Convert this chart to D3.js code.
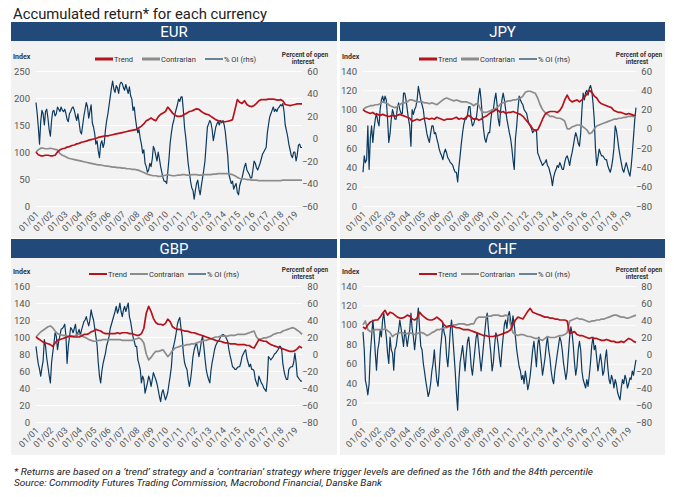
<!DOCTYPE html>
<html><head><meta charset="utf-8">
<script src="https://cdn.jsdelivr.net/npm/d3@7"></script>
<style>body{margin:0;background:#fff;} svg{display:block;font-family:Roboto,"Noto Sans",sans-serif;}</style>
</head><body><svg id="c" width="674" height="497"></svg>
<script>
// ---------- DATA ----------
// Trend & Contrarian: bi-monthly from Jan 2001 ; % OI: monthly from Jan 2001
const tickYears = [2001,2002,2003,2004,2005,2006,2007,2008,2009,2010,2011,2012,2013,2014,2015,2016,2017,2018,2019];

const eurLeftTicks = [0,50,100,150,200,250];
const eurRightTicks = [-60,-40,-20,0,20,40,60];
const jpyLeftTicks = [0,20,40,60,80,100,120,140];
const jpyRightTicks = [-80,-60,-40,-20,0,20,40,60];
const gbpLeftTicks = [0,20,40,60,80,100,120,140,160];
const gbpRightTicks = [-80,-60,-40,-20,0,20,40,60,80];
const chfLeftTicks = [0,20,40,60,80,100,120,140];
const chfRightTicks = [-80,-60,-40,-20,0,20,40,60,80];

const eurTrend = [
100,95,93,93,94,94, 93,93,94,100,104,106, 107,109,110,112,113,115, 116,118,119,120,122,123,
124,125,127,128,129,130, 130,131,132,133,134,135, 136,137,138,139,140,141, 142,145,148,152,158,160,
163,160,158,165,170,172, 175,183,178,172,168,166, 166,167,170,172,175,176, 178,180,179,175,172,170,
169,166,163,160,158,157, 156,156,157,158,160,178, 197,192,190,195,188,185, 184,186,190,195,197,197,
197,198,198,198,197,196, 197,195,188,187,186,187, 188,189,189,189];
const eurContrarian = [
100,104,107,107,106,106, 107,106,105,104,97,94, 92,90,88,87,86,85, 84,83,82,81,80,79,
78,77,76,76,75,74, 74,73,72,72,71,71, 70,70,69,69,68,68, 67,66,64,62,60,58,
57,56,56,55,55,56, 57,58,57,56,56,57, 57,58,58,57,57,58, 58,58,57,57,58,58,
58,58,59,59,60,60, 60,60,60,59,58,56, 53,51,50,50,49,49, 48,48,48,47,47,47,
47,47,47,47,47,47, 47,48,48,48,48,48, 48,48,48,48];
const eurOI = [
32,22,10,-5,15,25,22,12,24,26,18,8,
2,16,24,25,20,22,28,26,24,28,25,24,
26,22,17,15,22,24,27,28,25,20,16,22,
14,6,4,12,20,26,32,28,18,24,30,14,
10,4,-5,-2,-11,-17,-5,-2,-8,-4,8,16,
22,30,37,45,51,44,41,47,45,40,48,50,
49,45,43,48,44,40,46,38,35,25,28,18,
10,5,8,0,-5,-13,-10,-22,-25,-30,-28,-22,
-25,-18,-7,-10,-15,-20,-12,-18,-25,-30,-35,-38,
-38,-40,-30,-18,-4,5,12,16,22,26,30,35,
33,37,37,25,10,1,-10,-22,-30,-38,-44,-46,
-54,-46,-40,-37,-45,-50,-42,-35,-28,-20,-5,10,
13,16,14,8,-2,4,10,13,15,12,16,14,
16,12,6,-5,-15,-32,-36,-40,-38,-45,-42,-40,
-48,-50,-42,-38,-35,-30,-25,-22,-28,-30,-32,-35,
-35,-28,-20,-22,-26,-28,-25,-22,-18,-14,-12,-10,
-8,5,12,19,22,25,28,24,26,24,27,28,
30,29,31,24,12,7,2,-5,-10,-15,-17,-12,
-12,-20,-15,-6,-5,-8,-8];

const jpyTrend = [
100,98,97,96,97,95, 95,94,95,94,93,93, 94,93,94,95,94,93, 92,91,88,89,90,89,
90,91,91,90,91,90, 92,91,90,89,90,90, 90,91,92,90,91,90, 92,94,92,90,91,89,
90,92,93,95,97,98, 100,99,97,98,96,97, 97,98,97,96,95,93, 90,87,84,80,78,79,
84,90,95,97,98,98, 98,97,99,103,110,115, 110,108,109,110,108,110, 113,116,120,118,114,112,
108,106,105,104,103,102, 99,98,97,97,96,95, 96,95,94,94];
const jpyContrarian = [
100,102,103,104,104,105, 105,106,108,107,106,104, 103,102,103,105,107,107, 108,110,110,109,108,108,
108,107,107,106,107,106, 105,107,109,111,112,111, 110,109,110,109,108,108, 108,107,106,104,106,105,
99,97,97,98,99,100, 101,103,106,107,108,109, 109,110,110,111,112,114, 118,119,119,118,117,112,
105,100,97,95,93,93, 92,91,91,90,88,80, 80,82,83,84,84,83, 81,79,75,76,80,83,
84,85,86,87,88,89, 90,90,91,91,92,92, 93,93,93,93];
const jpyOI = [
-45,-28,-35,-32,3,-42,-10,3,-14,0,10,16,
8,3,20,30,34,28,34,30,10,-14,-5,10,
20,15,10,10,22,27,20,16,16,37,37,30,
20,10,3,-18,20,15,20,23,30,44,37,30,
25,20,10,3,-5,-10,-14,-5,3,3,-5,-4,
-10,-15,-21,-25,-28,-32,-25,-21,-25,-30,-32,-35,
-36,-38,-42,-45,-45,-55,-40,-28,-15,-4,5,10,
10,15,23,23,10,3,5,10,10,20,35,42,
30,13,0,-10,-14,-8,-4,-4,10,20,20,30,
37,25,10,3,20,30,37,30,20,10,3,-4,
-10,-20,-32,-42,-10,3,20,34,30,27,25,20,
18,16,10,5,3,0,-4,-2,-1,-1,-25,-28,
-32,-35,-38,-36,-35,-32,-38,-40,-45,-50,-59,-50,
-45,-42,-38,-40,-35,-38,-42,-42,-35,-30,-28,-32,
-38,-30,-25,-18,-10,-4,-8,-15,-18,-5,20,37,
30,38,40,35,42,45,40,27,10,-20,-38,-30,
-21,-25,-28,-28,-30,-32,-32,-38,-42,-45,-40,-32,
-20,3,-1,-10,-20,-28,-35,-42,-45,-40,-35,-40,
-45,-49,-40,-25,-8,10,22];

const gbpTrend = [
100,98,96,94,93,92, 91,89,93,96,97,98, 99,100,101,101,100,100, 100,101,103,103,104,106,
107,109,108,107,105,104, 104,104,104,104,105,104, 105,105,105,104,104,103, 102,102,104,110,128,136,
130,122,117,115,115,114, 116,121,118,112,110,109, 109,108,107,107,106,105, 105,104,103,102,101,100,
99,98,97,96,95,95, 94,93,93,92,92,92, 91,91,91,91,90,90, 88,87,92,97,96,95,
95,93,91,90,89,88, 87,86,85,84,83,83, 84,86,89,87];
const gbpContrarian = [
100,103,106,108,110,112, 113,111,107,104,103,102, 102,101,100,100,101,103, 103,102,100,99,97,96,
95,95,96,96,97,97, 97,97,97,97,97,97, 96,96,96,96,96,97, 98,99,97,93,80,73,
76,80,83,83,84,85, 81,77,80,84,87,88, 89,90,90,91,91,92, 92,93,94,95,96,96,
97,98,99,100,100,101, 101,101,101,102,102,102, 103,103,103,103,104,105, 106,107,100,97,98,99,
99,100,101,103,104,105, 105,107,108,109,110,111, 110,108,106,103];
const gbpOI = [
9,-3,-12,-18,-26,-16,-8,17,9,-5,-15,-25,
-34,-10,1,12,25,21,5,15,22,29,30,32,
35,21,-11,9,20,31,29,25,30,35,21,25,
29,22,28,33,38,40,44,38,33,40,52,45,
40,30,21,10,-10,-26,-34,-20,-11,-5,1,10,
15,21,30,35,40,45,50,56,48,52,60,50,
44,52,56,50,55,60,44,38,29,20,15,9,
9,-7,-12,-18,-34,-26,-30,-46,-40,-34,-26,-30,
-38,-30,-22,-26,-30,-35,-42,-50,-56,-46,-42,-48,
-54,-50,-45,-35,-26,-15,5,10,17,25,35,40,
43,30,21,1,-10,-15,-18,-30,-38,-30,-18,-3,
5,10,13,5,-3,5,15,21,9,-5,-18,-25,
-30,-34,-20,-10,-3,5,10,13,15,17,20,22,
23,22,21,18,15,5,-2,-8,-15,-16,-18,-18,
-16,-15,-15,-10,-3,0,3,5,-5,-10,-15,-12,
-18,-18,-20,-30,-34,-38,-26,-30,-34,-36,-40,-42,
-44,-30,-3,-5,-7,-5,-3,0,1,3,5,9,
9,5,-11,-20,-26,-30,-30,-18,-16,-15,-15,-10,
1,-10,-26,-28,-30,-32,-32];

const chfTrend = [
98,96,100,103,104,105, 105,108,112,115,110,113, 112,110,108,107,107,108, 110,109,106,105,107,113,
110,108,106,105,105,106, 108,106,104,100,98,99, 99,98,97,97,96,95, 95,95,94,93,92,91,
90,89,89,88,88,88, 89,89,90,91,92,93, 95,100,105,108,107,106, 110,114,117,113,112,111,
110,109,108,108,107,107, 106,106,105,105,105,104, 91,92,93,90,89,89, 88,87,86,87,86,86,
85,84,84,85,84,83, 83,82,82,83,82,84, 86,85,83,82];
const chfContrarian = [
100,104,95,93,94,95, 95,95,95,96,94,92, 88,90,91,92,92,91, 91,92,91,90,91,92,
92,91,89,90,92,93, 95,95,96,97,97,98, 99,100,100,101,101,101, 100,100,101,101,106,108,
108,108,108,109,109,110, 110,110,109,109,110,109, 100,92,90,89,90,90, 89,88,88,87,86,86,
85,84,86,88,87,87, 87,88,89,89,90,92, 104,105,106,107,106,106, 105,104,103,104,104,105,
105,106,106,107,108,109, 110,110,109,108,108,107, 107,108,109,110];
const chfOI = [
26,5,-31,-38,-48,-35,0,20,40,24,1,-19,
5,13,28,20,40,48,32,20,1,-11,20,5,
1,-19,5,9,20,28,40,30,20,9,28,20,
9,20,28,48,30,20,5,20,40,54,30,9,
5,-11,-20,-31,-40,-50,-45,-35,-20,-11,5,-15,
-31,-38,-20,5,20,36,25,20,-3,-15,5,28,
40,20,1,-20,-45,-66,-31,-10,0,10,-5,-20,
0,15,20,5,-15,-25,-10,5,20,25,10,-5,
-20,-5,10,25,40,48,30,15,0,-20,-10,10,
25,20,10,-5,-15,5,20,35,40,30,45,50,
40,30,45,35,20,5,-5,-15,-20,-30,-25,-35,
-20,-30,-42,-35,-25,-10,5,15,0,-15,10,20,
5,-10,-25,-15,-5,10,20,5,-5,-20,-30,-35,
-20,-10,0,10,20,15,5,-10,-20,-30,-20,0,
20,32,25,10,-10,-25,-15,5,15,5,-20,-30,
-35,-40,-30,-38,-25,-10,10,20,5,10,-5,-20,
-10,0,-10,-25,-20,-5,5,-15,-30,-35,-25,-30,
-40,-30,-35,-45,-50,-54,-40,-30,-35,-25,-30,-40,
-35,-28,-30,-20,-25,-15,-7];

// ---------- DRAW ----------
const C = {header:"#214a7b", bg:"#f2f2f2", red:"#b5121b", grey:"#8c8c8c", blue:"#0b3960", tick:"#555", text:"#333"};
const startDate = new Date(2001,0,1), endDate = new Date(2019,6,1);
const yearDates = tickYears.map(y => new Date(y,0,1));
const fmt = d3.timeFormat("%m/%y");
const svg = d3.select("#c");

svg.append("text").attr("x",13).attr("y",18.5).attr("font-size",14.5).attr("fill","#222")
  .attr("textLength",254).attr("lengthAdjust","spacingAndGlyphs")
  .text("Accumulated return* for each currency");

const panels = [
 {name:"EUR", trend:eurTrend, contra:eurContrarian, oi:eurOI, lt:eurLeftTicks, rt:eurRightTicks, box:[11,22,337,238], plot:[36,71,302,206], leg:[95,142,205], sw:3},
 {name:"JPY", trend:jpyTrend, contra:jpyContrarian, oi:jpyOI, lt:jpyLeftTicks, rt:jpyRightTicks, box:[340,22,665,238], plot:[363,71,636,206], leg:[419,461,519], sw:3},
 {name:"GBP", trend:gbpTrend, contra:gbpContrarian, oi:gbpOI, lt:gbpLeftTicks, rt:gbpRightTicks, box:[11,239,337,455], plot:[36,286,302,422], leg:[89,130,188], sw:2},
 {name:"CHF", trend:chfTrend, contra:chfContrarian, oi:chfOI, lt:chfLeftTicks, rt:chfRightTicks, box:[340,239,665,455], plot:[363,286,636,422], leg:[419,461,519], sw:2}
];

panels.forEach(p => {
  const [bx0,by0,bx1,by1] = p.box, [pl,pt,pr,pb] = p.plot;
  const g = svg.append("g");
  g.append("rect").attr("x",bx0).attr("y",by0+19).attr("width",bx1-bx0).attr("height",by1-by0-19).attr("fill",C.bg);
  g.append("rect").attr("x",bx0).attr("y",by0).attr("width",bx1-bx0).attr("height",19).attr("fill",C.header);
  g.append("text").attr("x",(bx0+bx1)/2).attr("y",by0+15).attr("text-anchor","middle")
    .attr("font-size",15).attr("fill","#fff").text(p.name);

  const x = d3.scaleTime().domain([startDate,endDate]).range([pl,pr]);
  const yL = d3.scaleLinear().domain(d3.extent(p.lt)).range([pb,pt]);
  const yR = d3.scaleLinear().domain(d3.extent(p.rt)).range([pb,pt]);

  const ax = g.append("g").attr("transform",`translate(${pl},0)`)
    .call(d3.axisLeft(yL).tickValues(p.lt).tickSize(-(pr-pl)).tickPadding(6));
  ax.select(".domain").remove();
  ax.selectAll("line").attr("stroke","#fff").attr("stroke-width",1);
  ax.selectAll("text").attr("font-size",9.5).attr("fill",C.tick).attr("font-family","Roboto,sans-serif");

  const ar = g.append("g").attr("transform",`translate(${pr},0)`)
    .call(d3.axisRight(yR).tickValues(p.rt).tickSize(0).tickPadding(0));
  ar.select(".domain").remove();
  ar.selectAll("text").attr("x",16).attr("text-anchor","end").attr("font-size",9.5).attr("fill",C.tick).attr("font-family","Roboto,sans-serif");

  const axb = g.append("g").attr("transform",`translate(0,${pb})`)
    .call(d3.axisBottom(x).tickValues(yearDates).tickFormat(fmt).tickSize(0));
  axb.select(".domain").remove();
  axb.selectAll("text").attr("y",0).attr("dy",0).attr("text-anchor","end")
    .attr("transform","translate(3,9) rotate(-45)").attr("font-size",9).attr("fill",C.tick).attr("font-family","Roboto,sans-serif");

  const lineL = d3.line().x(d=>x(d.date)).y(d=>yL(d.v));
  const lineR = d3.line().x(d=>x(d.date)).y(d=>yR(d.v));
  const bi = arr => arr.map((v,i)=>({date:d3.timeMonth.offset(startDate,2*i), v}));
  const mo = arr => arr.map((v,i)=>({date:d3.timeMonth.offset(startDate,i), v}));

  g.append("path").datum(mo(p.oi)).attr("d",lineR).attr("fill","none").attr("stroke",C.blue).attr("stroke-width",1.2).attr("stroke-linejoin","round");
  g.append("path").datum(bi(p.contra)).attr("d",lineL).attr("fill","none").attr("stroke",C.grey).attr("stroke-width",1.7).attr("stroke-linejoin","round");
  g.append("path").datum(bi(p.trend)).attr("d",lineL).attr("fill","none").attr("stroke",C.red).attr("stroke-width",1.7).attr("stroke-linejoin","round");

  g.append("text").attr("x",bx0+2).attr("y",pt-12).attr("font-size",7).attr("font-weight","bold").attr("fill",C.text).text("Index");
  const pc = g.append("text").attr("x",pr+3).attr("y",pt-14).attr("text-anchor","middle").attr("font-size",6.5).attr("font-weight","bold").attr("fill",C.text);
  pc.append("tspan").attr("x",pr+3).text("Percent of open");
  pc.append("tspan").attr("x",pr+1).attr("dy",7).text("interest");

  const ly = pt-12;
  const items = [{c:C.red,t:"Trend",w:p.sw},{c:C.grey,t:"Contrarian",w:p.sw},{c:C.blue,t:"% OI (rhs)",w:1.2}];
  items.forEach((it,i)=>{
    const lx = p.leg[i];
    g.append("line").attr("x1",lx).attr("x2",lx+18).attr("y1",ly).attr("y2",ly).attr("stroke",it.c).attr("stroke-width",it.w);
    g.append("text").attr("x",lx+19).attr("y",ly+2.5).attr("font-size",7.5).attr("fill",C.text).text(it.t);
  });
});

svg.append("text").attr("x",14).attr("y",475).attr("font-size",9).attr("font-style","italic").attr("fill","#222")
  .attr("textLength",579).attr("lengthAdjust","spacingAndGlyphs")
  .text("* Returns are based on a \u2018trend\u2019 strategy and a \u2018contrarian\u2019 strategy where trigger levels are defined as the 16th and the 84th percentile");
svg.append("text").attr("x",14).attr("y",486).attr("font-size",9).attr("font-style","italic").attr("fill","#222")
  .attr("textLength",368).attr("lengthAdjust","spacingAndGlyphs")
  .text("Source: Commodity Futures Trading Commission, Macrobond Financial, Danske Bank");
</script></body></html>
